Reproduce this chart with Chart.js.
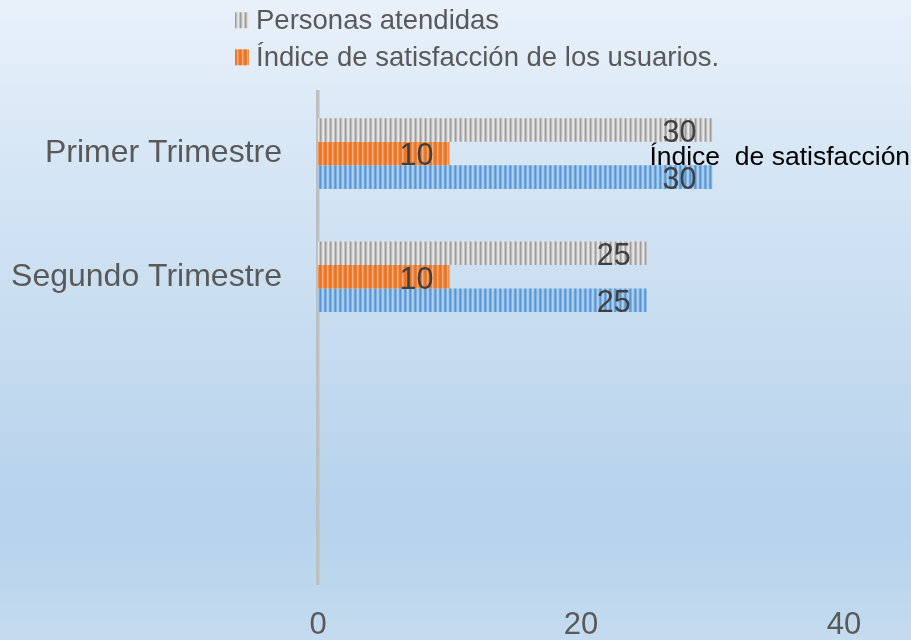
<!DOCTYPE html>
<html><head><meta charset="utf-8">
<script src="https://cdn.jsdelivr.net/npm/chart.js@4/dist/chart.umd.min.js"></script>
<style>html,body{margin:0;padding:0;overflow:hidden;background:#d6e6f5}#wrap{width:911px;height:640px;position:relative}</style>
</head><body><div id="wrap"><canvas id="c" width="911" height="640"></canvas></div>
<script>
// ---- data ----
const categories = ['Primer Trimestre', 'Segundo Trimestre', '', ''];
const personasAtendidas = [30, 25, null, null];
const indiceSatisfaccion = [10, 10, null, null];
const serieAzul = [30, 25, null, null];
const seriesLabels = ['Personas atendidas', 'Índice de satisfacción de los usuarios.', 'Índice de satisfacción'];
const legendSeries = [0, 1];
const xTicks = [0, 20, 40];
const annotationText = 'Índice  de satisfacción';

const FONT = '"Liberation Sans", Arial, sans-serif';

function stripes(cols) {
  const c = document.createElement('canvas');
  c.width = cols.length; c.height = 4;
  const g = c.getContext('2d');
  cols.forEach((col, i) => { g.fillStyle = col; g.fillRect(i, 0, 1, 4); });
  return g.createPattern(c, 'repeat');
}
const ctx = document.getElementById('c').getContext('2d');
const grayPat = stripes(['#9c9c9c', '#bcbcbc', '#dcdcdc', '#e8e8e8', '#c4c4c4']);
const orangePat = stripes(['#e8742a', '#ed7d31', '#f6ae7c', '#f19150', '#ea792e']);
const bluePat = stripes(['#5896d2', '#7fb1e2', '#b0d0ef', '#a2c7ec', '#6fa6dc']);

const bgPlugin = {
  id: 'bg',
  beforeDraw(chart) {
    const c = chart.ctx, h = chart.height, w = chart.width;
    const g = c.createLinearGradient(0, 0, 0, h);
    g.addColorStop(0, '#e9f1fa');
    g.addColorStop(0.25, '#d6e6f5');
    g.addColorStop(0.45, '#cbdff1');
    g.addColorStop(0.8, '#b6d2ec');
    g.addColorStop(0.9, '#bbd6ed');
    g.addColorStop(1, '#c5dbef');
    c.save(); c.fillStyle = g; c.fillRect(0, 0, w, h); c.restore();
  }
};

const labelPlugin = {
  id: 'vlabels',
  afterDatasetsDraw(chart) {
    const c = chart.ctx;
    c.save();
    c.font = '30.5px ' + FONT;
    c.fillStyle = '#404040';
    c.textAlign = 'right';
    c.textBaseline = 'alphabetic';
    chart.data.datasets.forEach((ds, di) => {
      const meta = chart.getDatasetMeta(di);
      meta.data.forEach((el, i) => {
        const v = ds.data[i];
        if (v === null || v === undefined) return;
        c.fillText(String(v), el.x - 16, el.y + 11.8);
      });
    });
    c.restore();
  }
};

const legendPlugin = {
  id: 'mylegend',
  afterDraw(chart) {
    const c = chart.ctx;
    c.save();
    c.font = '27.5px ' + FONT;
    c.textBaseline = 'alphabetic';
    c.textAlign = 'left';
    legendSeries.forEach((di, k) => {
      const ds = chart.data.datasets[di];
      const base = 29.3 + k * 37;
      c.fillStyle = ds.backgroundColor;
      c.fillRect(235, base - 17, 14, 16);
      c.fillStyle = '#595959';
      c.fillText(ds.label, 256, base);
    });
    // annotation text box
    const xs = chart.scales.x, ys = chart.scales.y;
    c.font = '26.5px ' + FONT;
    c.fillStyle = '#000000';
    c.fillText(annotationText, xs.getPixelForValue(25.2), ys.getPixelForValue(0) + 11);
    c.restore();
  }
};

new Chart(ctx, {
  type: 'bar',
  data: {
    labels: categories,
    datasets: [
      { label: seriesLabels[0], data: personasAtendidas, backgroundColor: grayPat },
      { label: seriesLabels[1], data: indiceSatisfaccion, backgroundColor: orangePat },
      { label: seriesLabels[2], data: serieAzul, backgroundColor: bluePat }
    ]
  },
  options: {
    indexAxis: 'y',
    responsive: false,
    animation: false,
    devicePixelRatio: 1,
    layout: { padding: { top: 92, right: 67, left: 0, bottom: 0 } },
    datasets: { bar: { categoryPercentage: 0.573, barPercentage: 1, borderWidth: 0 } },
    plugins: { legend: { display: false }, tooltip: { enabled: false } },
    scales: {
      x: {
        min: xTicks[0], max: xTicks[xTicks.length - 1],
        afterBuildTicks(scale) { scale.ticks = xTicks.map(v => ({ value: v })); },
        afterFit(scale) { scale.height = 52; },
        grid: { display: false, drawTicks: false },
        border: { display: false },
        ticks: { color: '#595959', font: { size: 31, family: FONT }, padding: 22 }
      },
      y: {
        afterFit(scale) { scale.width = 318; },
        grid: { display: false, drawTicks: false },
        border: { display: true, color: '#bfbfbf', width: 3.5 },
        ticks: { color: '#595959', font: { size: 32, family: FONT }, padding: 36 }
      }
    }
  },
  plugins: [bgPlugin, labelPlugin, legendPlugin]
});
</script></body></html>
